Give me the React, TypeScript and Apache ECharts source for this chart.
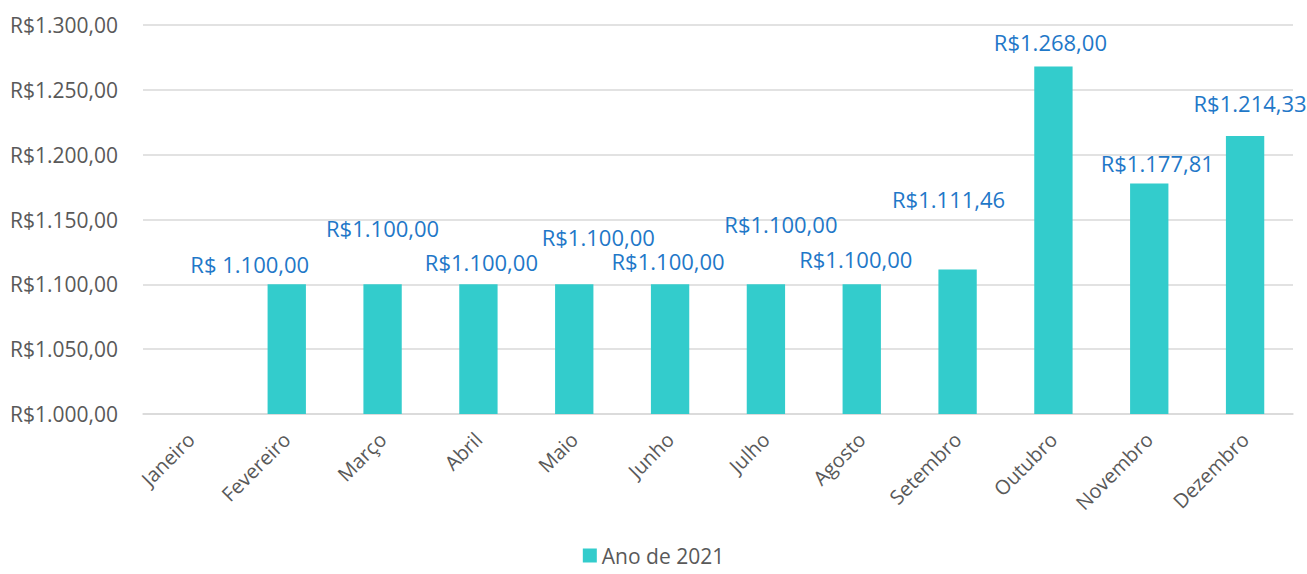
import React, { useEffect, useRef } from "react";
import * as echarts from "echarts";

const categories = [
  "Janeiro", "Fevereiro", "Março", "Abril", "Maio", "Junho",
  "Julho", "Agosto", "Setembro", "Outubro", "Novembro", "Dezembro",
];
const seriesName = "Ano de 2021";
const values: (number | null)[] = [
  null, 1100, 1100, 1100, 1100, 1100, 1100, 1100, 1111.46, 1268, 1177.81, 1214.33,
];
const labelPrefixes = ["R$", "R$ ", "R$", "R$", "R$", "R$", "R$", "R$", "R$", "R$", "R$", "R$"];
// manual label placement (dx, dy in px relative to default top position)
const labelOffsets: [number, number][] = [
  [0, 0], [-37, -9], [0, -45], [3, -11], [24, -36], [-2, -12],
  [15, -49], [-6, -14], [-9, -59], [-3, -13], [8, -9], [5, -22],
];
const yMin = 1000;
const yMax = 1300;
const yInterval = 50;

function fmtBRL(v: number): string {
  const fixed = v.toFixed(2);
  const [intPart, dec] = fixed.split(".");
  const withDots = intPart.replace(/\B(?=(\d{3})+(?!\d))/g, ".");
  return withDots + "," + dec;
}

export default function App() {
  const ref = useRef<HTMLDivElement>(null);
  useEffect(() => {
    document.body.style.margin = "0";
    if (!ref.current) return;
    const chart = echarts.init(ref.current, null, { renderer: "svg" });
    const font = "'Open Sans', 'Noto Sans', sans-serif";
    chart.setOption({
      animation: false,
      textStyle: { fontFamily: font },
      grid: { left: 143, right: 14, top: 25, bottom: 160, containLabel: false },
      legend: {
        top: 543,
        left: "center",
        padding: 2,
        icon: "rect",
        itemWidth: 14,
        itemHeight: 14,
        itemGap: 6,
        textStyle: { color: "#595959", fontSize: 21, fontFamily: font },
        data: [seriesName],
      },
      xAxis: {
        type: "category",
        data: categories,
        axisLine: { lineStyle: { color: "#D9D9D9", width: 1.5 } },
        axisTick: { show: false },
        axisLabel: {
          rotate: 45,
          color: "#595959",
          fontSize: 20,
          fontFamily: font,
          margin: 22,
          interval: 0,
        },
      },
      yAxis: {
        type: "value",
        min: yMin,
        max: yMax,
        interval: yInterval,
        axisLine: { show: false },
        axisTick: { show: false },
        splitLine: { lineStyle: { color: "#D9D9D9", width: 1.5 } },
        axisLabel: {
          color: "#595959",
          fontSize: 21,
          fontFamily: font,
          margin: 25,
          formatter: (v: number) => "R$" + fmtBRL(v),
        },
      },
      series: [
        {
          name: seriesName,
          type: "bar",
          barWidth: "40%",
          itemStyle: { color: "#33CCCC" },
          data: values.map((v, i) => ({
            value: v,
            label: {
              show: v !== null,
              position: "top",
              distance: 0,
              offset: labelOffsets[i],
              color: "#1F78C8",
              fontSize: 22,
              fontFamily: font,
              formatter: () => (v === null ? "" : labelPrefixes[i] + fmtBRL(v)),
            },
          })),
        },
      ],
    });
    return () => chart.dispose();
  }, []);
  return <div ref={ref} style={{ width: 1307, height: 574 }} />;
}
